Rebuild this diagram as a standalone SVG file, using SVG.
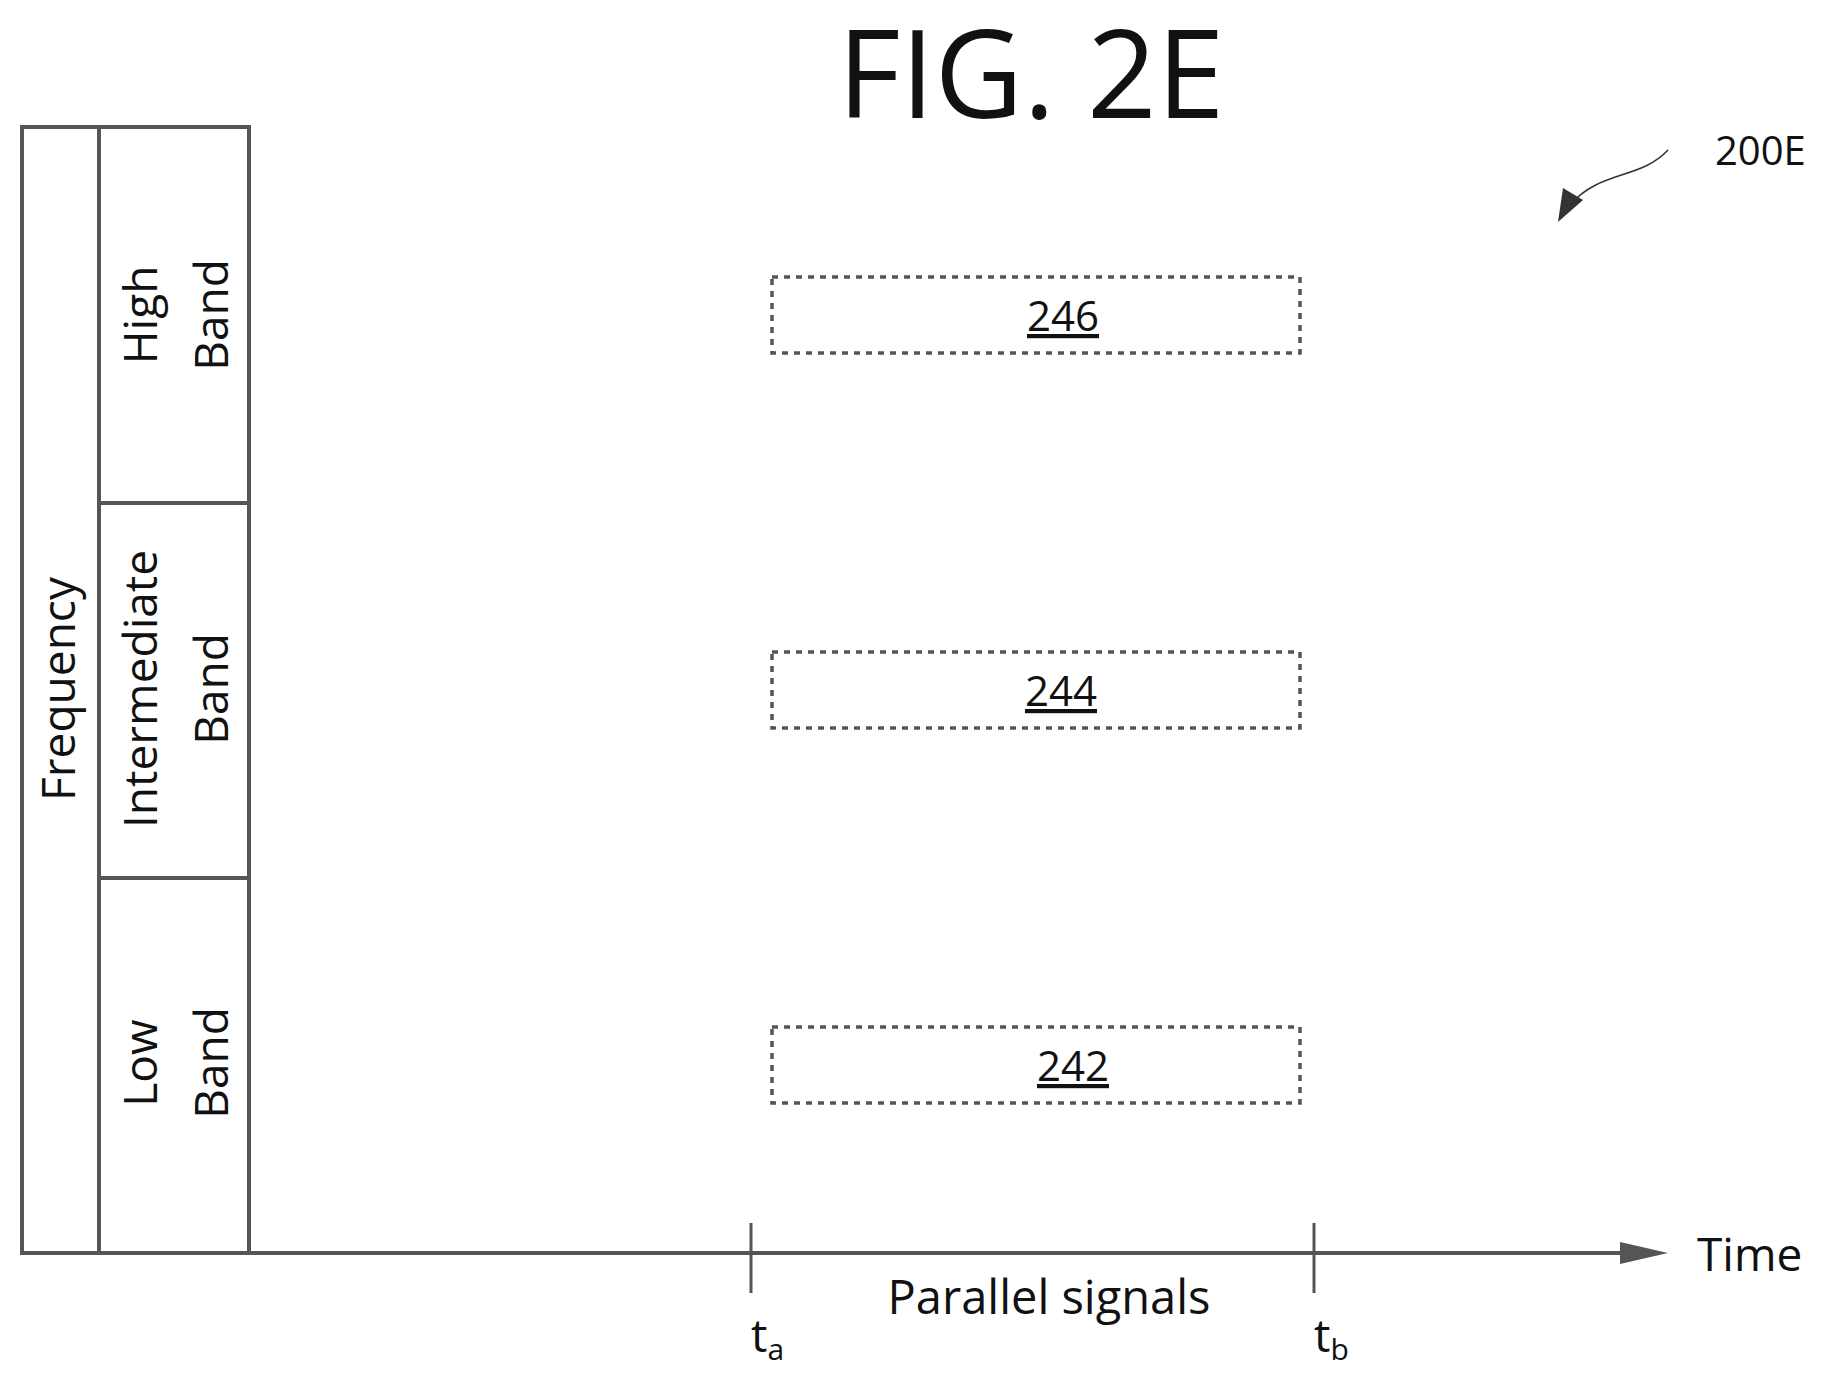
<svg xmlns="http://www.w3.org/2000/svg" width="1831" height="1377" viewBox="0 0 1831 1377">
<style>
.t{font-family:"Open Sans","Liberation Sans",sans-serif;fill:#111}
.box{fill:none;stroke:#555;stroke-width:4}
.sig{fill:none;stroke:#555;stroke-width:3.5;stroke-dasharray:6 6}
</style>
<rect width="1831" height="1377" fill="#fff"/>
<text class="t" x="1031" y="118" font-size="122" text-anchor="middle">FIG. 2E</text>
<g id="ref200E"><text class="t" x="1715" y="165" font-size="40">200E</text>
<path d="M1668,150 C1640,180 1600,170 1570,205" fill="none" stroke="#333" stroke-width="1.5"/>
<path d="M1558,222 L1563,188 L1583,200 Z" fill="#333"/></g>
<g id="freq"><rect class="box" x="22" y="127" width="77" height="1126"/>
<text class="t" font-size="46" text-anchor="middle" transform="translate(75,689) rotate(-90)">Frequency</text></g>
<g id="high"><rect class="box" x="99" y="127" width="150" height="376"/>
<text class="t" font-size="46" text-anchor="middle" transform="translate(157,315) rotate(-90)">High</text>
<text class="t" font-size="46" text-anchor="middle" transform="translate(228,315) rotate(-90)">Band</text></g>
<g id="inter"><rect class="box" x="99" y="503" width="150" height="375"/>
<text class="t" font-size="46" text-anchor="middle" transform="translate(157,689) rotate(-90)">Intermediate</text>
<text class="t" font-size="46" text-anchor="middle" transform="translate(228,689) rotate(-90)">Band</text></g>
<g id="low"><rect class="box" x="99" y="878" width="150" height="375"/>
<text class="t" font-size="46" text-anchor="middle" transform="translate(157,1063) rotate(-90)">Low</text>
<text class="t" font-size="46" text-anchor="middle" transform="translate(228,1063) rotate(-90)">Band</text></g>
<g id="s246"><rect class="sig" x="772" y="277" width="528" height="76"/><text class="t" x="1063" y="331" font-size="42" text-anchor="middle" text-decoration="underline">246</text></g>
<g id="s244"><rect class="sig" x="772" y="652" width="528" height="76"/><text class="t" x="1061" y="706" font-size="42" text-anchor="middle" text-decoration="underline">244</text></g>
<g id="s242"><rect class="sig" x="772" y="1027" width="528" height="76"/><text class="t" x="1073" y="1081" font-size="42" text-anchor="middle" text-decoration="underline">242</text></g>
<g id="connectors">
<line x1="249" y1="1253" x2="1625" y2="1253" stroke="#555" stroke-width="4"/>
<path d="M1620,1242 L1668,1253 L1620,1264 Z" fill="#555"/>
<line x1="751" y1="1223" x2="751" y2="1293" stroke="#555" stroke-width="3"/>
<line x1="1314" y1="1223" x2="1314" y2="1293" stroke="#555" stroke-width="3"/>
</g>
<text class="t" x="1697" y="1271" font-size="46">Time</text>
<text class="t" x="1049" y="1314" font-size="47" text-anchor="middle">Parallel signals</text>
<text class="t" x="751" y="1352" font-size="46">t<tspan font-size="30" dy="8">a</tspan></text>
<text class="t" x="1314" y="1352" font-size="46">t<tspan font-size="30" dy="8">b</tspan></text>
</svg>
